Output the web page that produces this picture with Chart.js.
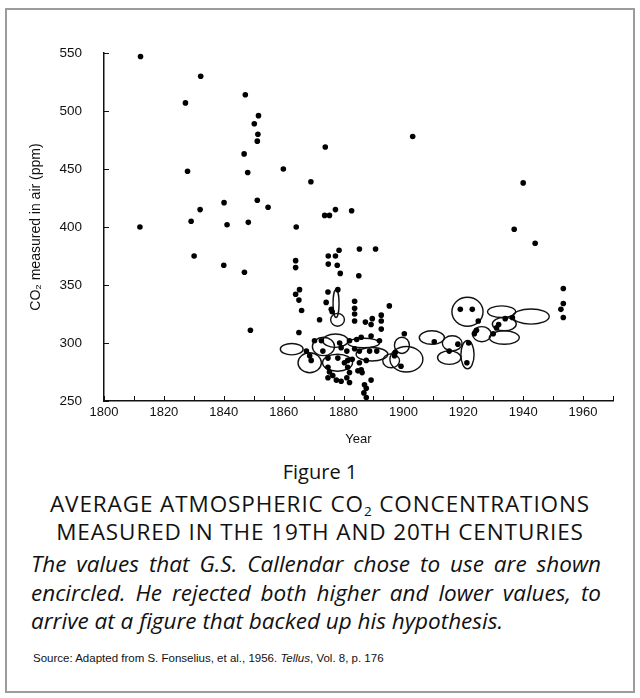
<!DOCTYPE html>
<html>
<head>
<meta charset="utf-8">
<script src="https://cdn.jsdelivr.net/npm/chart.js@4"></script>
<style>
    body { margin: 0; background: #fff; }
    #frame { position: absolute; left: 5px; top: 8px; width: 626px; height: 681px; border: 2px solid #9c9c9c; }
    #chartBox { position: absolute; left: 0; top: 0; width: 640px; height: 450px; }
    .cap { position: absolute; left: 0; width: 640px; text-align: center; color: #111; font-family: "Open Sans", Lato, sans-serif; }
    #fig { top: 460px; font-size: 20px; line-height: 24px; font-weight: 500; }
    #title { top: 490px; font-size: 22.5px; line-height: 28px; letter-spacing: 0.9px; font-weight: 500; }
    #note { position: absolute; left: 31px; top: 550px; width: 570px; font-family: "Open Sans", sans-serif; font-style: italic;
            font-size: 22.5px; line-height: 28.5px; color: #111; }
    #note span { display: block; text-align: justify; text-align-last: justify; white-space: nowrap; }
    #note span.last { text-align-last: left; }
    #src { position: absolute; left: 33px; top: 652px; font-family: "Liberation Sans", Arial, sans-serif; font-size: 11.5px; color: #111; }
    sub { font-size: 0.6em; position: relative; top: 0.3em; vertical-align: baseline; line-height: 0; }
</style>
</head>
<body>
<div id="frame"></div>
<div id="chartBox"><canvas id="co2Chart" width="640" height="450"></canvas></div>
<div class="cap" id="fig">Figure 1</div>
<div class="cap" id="title">AVERAGE ATMOSPHERIC CO<sub>2</sub> CONCENTRATIONS<br>MEASURED IN THE 19TH AND 20TH CENTURIES</div>
<div id="note"><span>The values that G.S. Callendar chose to use are shown</span><span>encircled. He rejected both higher and lower values, to</span><span class="last">arrive at a figure that backed up his hypothesis.</span></div>
<div id="src">Source: Adapted from S. Fonselius, et al., 1956. <i>Tellus</i>, Vol. 8, p. 176</div>
<script>
// 측정값 (연도, ppm)
const years = [
    1812.2, 1832.3, 1827.2, 1847.2, 1851.6, 1850.2, 1851.4, 1851.2, 1846.8, 1827.9,
    1848.0, 1840.1, 1851.2, 1854.8, 1832.1, 1829.1, 1841.1, 1848.2, 1812.0, 1830.1,
    1840.0, 1846.9, 1848.9, 1859.9, 1866.2, 1903.1, 1873.9, 1859.9, 1869.1, 1873.7,
    1875.3, 1877.3, 1882.7, 1864.2, 1878.5, 1885.3, 1890.7, 1874.9, 1874.9, 1877.3,
    1877.9, 1878.9, 1885.1, 1864.0, 1864.0, 1865.3, 1864.0, 1865.1, 1866.0, 1878.1,
    1874.8, 1874.2, 1875.9, 1876.2, 1883.7, 1883.7, 1883.7, 1895.3, 1872.0, 1883.7,
    1887.3, 1889.6, 1889.2, 1892.6, 1892.6, 1892.6, 1892.0, 1865.1, 1900.3, 1897.3,
    1899.2, 1919.0, 1923.0, 1925.0, 1924.4, 1923.7, 1921.8, 1918.2, 1915.3, 1910.3,
    1921.2, 1934.0, 1936.4, 1931.8, 1931.1, 1930.0, 1940.0, 1937.0, 1944.0, 1953.4,
    1953.4, 1952.6, 1953.4,
    1870.3, 1872.6, 1878.7, 1882.0, 1884.4, 1885.9, 1889.2, 1867.6, 1873.1, 1879.2,
    1881.1, 1883.7, 1885.3, 1888.7, 1891.1, 1897.0, 1868.7, 1869.2, 1874.8, 1878.1,
    1880.3, 1881.4, 1882.9, 1885.3, 1887.6, 1874.8, 1875.3, 1876.4, 1874.8, 1877.6,
    1879.2, 1881.4, 1882.0, 1881.1, 1882.0, 1884.8, 1885.9, 1886.2, 1889.2, 1887.0,
    1887.6, 1886.8, 1887.6
];
const ppm = [
    547, 530, 507, 514, 496, 489, 480, 474, 463, 448,
    447, 421, 423, 417, 415, 405, 402, 404, 400, 375,
    367, 361, 311, 557, 553, 478, 469, 450, 439, 410,
    410, 415, 414, 400, 380, 381, 381, 375, 368, 375,
    367, 360, 358, 371, 365, 346, 342, 337, 328, 346,
    344, 335, 329, 327, 336, 330, 325, 332, 320, 319,
    318, 321, 316, 324, 319, 312, 302, 309, 308, 292,
    280, 329, 329, 319, 311, 308, 300, 299, 293, 301,
    283, 321, 322, 316, 313, 308, 438, 398, 386, 347,
    334, 329, 322,
    302, 302, 300, 302, 303, 305, 306, 293, 293, 296,
    293, 295, 293, 293, 293, 289, 289, 285, 287, 287,
    283, 285, 286, 283, 285, 279, 275, 272, 270, 268,
    267, 279, 274.5, 270, 266, 276, 277, 274.5, 268, 264,
    261, 257, 253
];

// Callendar가 선택한 값 (타원 중심, 반폭: 연도, 반높이: ppm)
const ringYears = [1862.7, 1868.7, 1877.3, 1873.3, 1886.7, 1889.5, 1878.0, 1895.9, 1901.0, 1899.5, 1877.5, 1878.0,
                   1909.5, 1915.3, 1916.3, 1921.4, 1921.4, 1926.2, 1932.8, 1942.6, 1933.7, 1933.7];
const ringPpm = [294.7, 283, 302, 297, 300, 290.3, 283, 284.6, 286, 298, 334, 320,
                 304.7, 287.4, 299.7, 327, 290, 307.6, 327, 322.8, 304.7, 316.3];
const ringHalfYears = [3.8, 3.9, 4.2, 3.7, 5.3, 5.3, 5.0, 2.8, 5.5, 2.5, 1.0, 2.3,
                       4.2, 3.9, 3.3, 5.2, 2.2, 3.1, 4.7, 6.1, 5.0, 4.0];
const ringHalfPpm = [4.9, 8.6, 5.8, 7.9, 4.1, 5.8, 7.3, 6.0, 11, 7, 12, 5.5,
                     5.8, 5.8, 6.5, 12.5, 12.2, 6.5, 5.0, 6.5, 5.8, 5.8];

// 축 눈금
const yearTicks = [1800, 1820, 1840, 1860, 1880, 1900, 1920, 1940, 1960];
const ppmTicks = [250, 300, 350, 400, 450, 500, 550];

document.addEventListener('DOMContentLoaded', function() {
    const ctx = document.getElementById('co2Chart').getContext('2d');

    // 타원 그리기
    const ringPlugin = {
        id: 'rings',
        beforeDatasetsDraw(chart) {
            const { x, y } = chart.scales;
            const c = chart.ctx;
            c.save();
            c.strokeStyle = '#111';
            c.lineWidth = 1.4;
            ringYears.forEach((yr, i) => {
                const cx = x.getPixelForValue(yr);
                const cy = y.getPixelForValue(ringPpm[i]);
                const rx = x.getPixelForValue(yr + ringHalfYears[i]) - cx;
                const ry = cy - y.getPixelForValue(ringPpm[i] + ringHalfPpm[i]);
                c.beginPath();
                c.ellipse(cx, cy, rx, ry, 0, 0, Math.PI * 2);
                c.stroke();
            });
            c.restore();
        }
    };

    // 안쪽으로 향한 눈금
    const innerTicks = {
        id: 'innerTicks',
        afterDraw(chart) {
            const { x, y } = chart.scales;
            const c = chart.ctx;
            c.save();
            c.strokeStyle = '#111';
            c.lineWidth = 1;
            c.beginPath();
            x.ticks.forEach(t => {
                const px = Math.round(x.getPixelForValue(t.value)) + 0.5;
                c.moveTo(px, y.bottom);
                c.lineTo(px, y.bottom - 5);
            });
            y.ticks.forEach(t => {
                const py = Math.round(y.getPixelForValue(t.value)) + 0.5;
                c.moveTo(x.left, py);
                c.lineTo(x.left + 5, py);
            });
            c.stroke();
            c.restore();
        }
    };

    new Chart(ctx, {
        type: 'scatter',
        data: {
            datasets: [{
                label: 'CO2',
                data: years.map((yr, i) => ({ x: yr, y: ppm[i] })),
                backgroundColor: '#000',
                borderColor: '#000',
                pointRadius: 2.8,
                pointBorderWidth: 0
            }]
        },
        plugins: [ringPlugin, innerTicks],
        options: {
            responsive: false,
            animation: false,
            layout: { padding: { top: 53, right: 27, left: 0, bottom: 0 } },
            plugins: {
                legend: { display: false },
                tooltip: { enabled: false }
            },
            scales: {
                x: {
                    type: 'linear',
                    min: 1800,
                    max: 1970,
                    afterFit(scale) { scale.height = 49; },
                    grid: { display: false, drawTicks: false },
                    border: { display: true, color: '#111', width: 1.5 },
                    ticks: {
                        stepSize: 10,
                        autoSkip: false,
                        maxRotation: 0,
                        padding: 4,
                        color: '#111',
                        font: { family: 'Liberation Sans, Arial, sans-serif', size: 13 },
                        callback: v => yearTicks.includes(v) ? String(v) : ''
                    },
                    title: {
                        display: true,
                        text: 'Year',
                        color: '#111',
                        padding: { top: 0, bottom: 3 },
                        font: { family: 'Liberation Sans, Arial, sans-serif', size: 13 }
                    }
                },
                y: {
                    min: 250,
                    max: 550,
                    afterFit(scale) { scale.width = 104; },
                    grid: { display: false, drawTicks: false },
                    border: { display: true, color: '#111', width: 1.5 },
                    ticks: {
                        stepSize: 50,
                        padding: 22,
                        color: '#111',
                        font: { family: 'Liberation Sans, Arial, sans-serif', size: 13.5 },
                        callback: v => ppmTicks.includes(v) ? String(v) : ''
                    },
                    title: {
                        display: true,
                        text: 'CO₂ measured in air (ppm)',
                        color: '#111',
                        padding: { top: 28, bottom: 0 },
                        font: { family: 'Liberation Sans, Arial, sans-serif', size: 14 }
                    }
                }
            }
        }
    });
});
</script>
</body>
</html>
